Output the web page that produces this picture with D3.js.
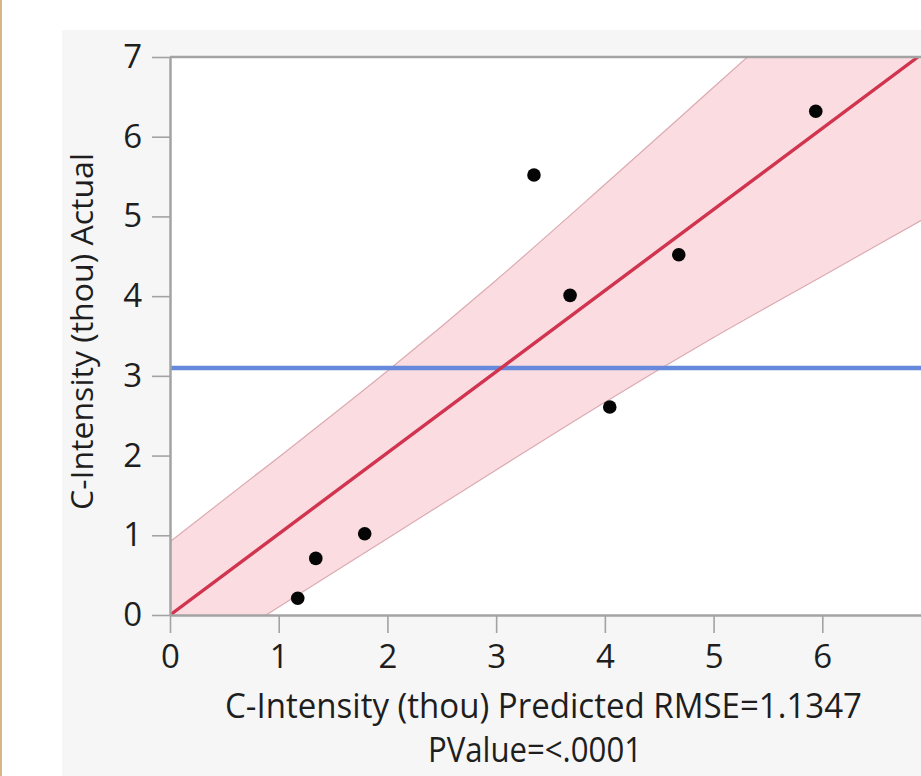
<!DOCTYPE html>
<html>
<head>
<meta charset="utf-8">
<script src="https://cdn.jsdelivr.net/npm/d3@7"></script>
<style>
  html, body { margin: 0; padding: 0; background: #fff; }
  svg { display: block; }
  text { font-family: "Open Sans", "Noto Sans", sans-serif; fill: #1e1e1e; }
</style>
</head>
<body>
<svg id="chart" width="921" height="776"></svg>
<script>
// values
const predicted = [1.175, 1.341, 1.791, 3.348, 3.68, 4.045, 4.68, 5.94];
const actual = [0.21, 0.71, 1.02, 5.52, 4.01, 2.61, 4.52, 6.32];
const meanActual = 3.1;
const fitX = [0, 6.88];
const fitY = [0, 7];
const bandX = [0, 1, 2, 3, 4, 5, 6, 7];
const bandUpper = [0.92, 1.98, 3.06, 4.2, 5.4, 6.62, 7.84, 9.06];
const bandLower = [-0.77, 0.1, 0.96, 1.82, 2.67, 3.48, 4.25, 5.02];
const xTicks = [0, 1, 2, 3, 4, 5, 6, 7];
const yTicks = [0, 1, 2, 3, 4, 5, 6, 7];
const xTitle = "C-Intensity (thou) Predicted RMSE=1.1347";
const xTitle2 = "PValue=<.0001";
const yTitle = "C-Intensity (thou) Actual";

const svg = d3.select("#chart");
const plotL = 170, plotT = 57, plotR = 931, plotB = 615;

// outer frame: gray panel and the tan edge on the left
svg.append("rect").attr("x", 62).attr("y", 30).attr("width", 921 - 62).attr("height", 776 - 30)
  .attr("fill", "#f6f6f6");
svg.append("rect").attr("x", 0).attr("y", 0).attr("width", 2).attr("height", 776)
  .attr("fill", "#d8b684");

const x = d3.scaleLinear().domain([0, 7]).range([plotL, plotR]);
const y = d3.scaleLinear().domain([0, 7]).range([plotB, plotT]);

svg.append("rect").attr("x", plotL).attr("y", plotT)
  .attr("width", plotR - plotL).attr("height", plotB - plotT).attr("fill", "#fff");

svg.append("clipPath").attr("id", "plot")
  .append("rect").attr("x", plotL).attr("y", plotT)
  .attr("width", plotR - plotL).attr("height", plotB - plotT);

const g = svg.append("g").attr("clip-path", "url(#plot)");

const band = bandX.map((v, i) => ({ x: v, hi: bandUpper[i], lo: bandLower[i] }));

g.append("path")
  .datum(band)
  .attr("fill", "#fbdde1")
  .attr("d", d3.area().curve(d3.curveMonotoneX).x(d => x(d.x)).y0(d => y(d.lo)).y1(d => y(d.hi)));

["hi", "lo"].forEach(k => {
  g.append("path")
    .datum(band)
    .attr("fill", "none")
    .attr("stroke", "#dcaab2")
    .attr("stroke-width", 1.2)
    .attr("d", d3.line().curve(d3.curveMonotoneX).x(d => x(d.x)).y(d => y(d[k])));
});

g.append("line")
  .attr("x1", x(0)).attr("x2", x(7))
  .attr("y1", y(meanActual)).attr("y2", y(meanActual))
  .attr("stroke", "#6689dc").attr("stroke-width", 4.5);

g.append("line")
  .attr("x1", x(fitX[0])).attr("y1", y(fitY[0]))
  .attr("x2", x(fitX[1])).attr("y2", y(fitY[1]))
  .attr("stroke", "#d1344f").attr("stroke-width", 3.4);

g.selectAll("circle")
  .data(predicted)
  .join("circle")
  .attr("cx", d => x(d))
  .attr("cy", (d, i) => y(actual[i]))
  .attr("r", 6.8)
  .attr("fill", "#050505");

// axes
const xAxis = svg.append("g").attr("transform", `translate(0,${plotB})`)
  .call(d3.axisBottom(x).tickValues(xTicks).tickFormat(d3.format("d")).tickSize(18).tickPadding(12).tickSizeOuter(0));
const yAxis = svg.append("g").attr("transform", `translate(${plotL},0)`)
  .call(d3.axisLeft(y).tickValues(yTicks).tickFormat(d3.format("d")).tickSize(18).tickPadding(10).tickSizeOuter(0));

[xAxis, yAxis].forEach(a => {
  a.select(".domain").attr("stroke", "#a3a3a3").attr("stroke-width", 2.5);
  a.selectAll(".tick line").attr("stroke", "#a3a3a3").attr("stroke-width", 1.6);
  a.selectAll(".tick text").attr("font-size", 33).attr("fill", "#1e1e1e")
    .attr("font-family", "'Open Sans', 'Noto Sans', sans-serif");
});

// top frame line
svg.append("line").attr("x1", plotL).attr("x2", plotR).attr("y1", plotT).attr("y2", plotT)
  .attr("stroke", "#a3a3a3").attr("stroke-width", 2.5);

svg.append("text")
  .attr("x", 225).attr("y", 718)
  .attr("font-size", 34)
  .attr("textLength", 637).attr("lengthAdjust", "spacingAndGlyphs")
  .text(xTitle);

svg.append("text")
  .attr("x", 428).attr("y", 762)
  .attr("font-size", 34)
  .attr("textLength", 214).attr("lengthAdjust", "spacingAndGlyphs")
  .text(xTitle2);

svg.append("text")
  .attr("transform", "translate(93,510) rotate(-90)")
  .attr("font-size", 31)
  .attr("textLength", 357).attr("lengthAdjust", "spacingAndGlyphs")
  .text(yTitle);
</script>
</body>
</html>
